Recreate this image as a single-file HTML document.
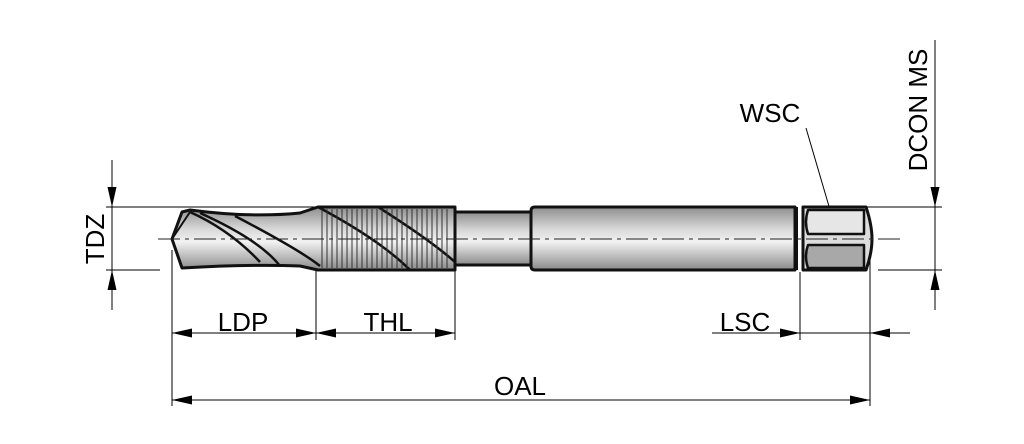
<!DOCTYPE html>
<html><head><style>body{margin:0;background:#fff}svg{display:block}</style></head><body>
<svg width="1024" height="444" viewBox="0 0 1024 444" xmlns="http://www.w3.org/2000/svg" font-family="Liberation Sans, sans-serif">
<defs>
<linearGradient id="g" x1="0" y1="0" x2="0" y2="1">
<stop offset="0" stop-color="#8e8e8e"/><stop offset="0.35" stop-color="#d8d8d8"/><stop offset="0.55" stop-color="#f2f2f2"/><stop offset="1" stop-color="#8a8a8a"/></linearGradient>
<marker id="a" markerWidth="20" markerHeight="10" refX="20" refY="5" orient="auto" markerUnits="userSpaceOnUse"><path d="M0,0.5L20,5L0,9.5z" fill="#000"/></marker>
</defs>
<g stroke="#000" stroke-width="1" fill="none">
<line x1="106" y1="207" x2="320" y2="207"/>
<line x1="106" y1="270" x2="160" y2="270"/>
<line x1="866" y1="207" x2="942" y2="207"/>
<line x1="878" y1="270" x2="942" y2="270"/>
<line x1="172" y1="250" x2="172" y2="406"/>
<line x1="316" y1="270" x2="316" y2="340"/>
<line x1="455" y1="270" x2="455" y2="340"/>
<line x1="800" y1="272" x2="800" y2="340"/>
<line x1="870" y1="250" x2="870" y2="406"/>
<line x1="112" y1="160" x2="112" y2="207" marker-end="url(#a)"/>
<line x1="112" y1="310" x2="112" y2="270" marker-end="url(#a)"/>
<line x1="112" y1="207" x2="112" y2="270"/>
<line x1="935" y1="40" x2="935" y2="207" marker-end="url(#a)"/>
<line x1="935" y1="310" x2="935" y2="270" marker-end="url(#a)"/>
<line x1="935" y1="207" x2="935" y2="270"/>
<line x1="244" y1="333" x2="172" y2="333" marker-end="url(#a)"/>
<line x1="244" y1="333" x2="316" y2="333" marker-end="url(#a)"/>
<line x1="386" y1="333" x2="316" y2="333" marker-end="url(#a)"/>
<line x1="386" y1="333" x2="455" y2="333" marker-end="url(#a)"/>
<line x1="712" y1="333" x2="800" y2="333" marker-end="url(#a)"/>
<line x1="910" y1="333" x2="870" y2="333" marker-end="url(#a)"/>
<line x1="800" y1="333" x2="870" y2="333"/>
<line x1="520" y1="400" x2="172" y2="400" marker-end="url(#a)"/>
<line x1="520" y1="400" x2="870" y2="400" marker-end="url(#a)"/>
<line x1="806" y1="128" x2="833" y2="220"/>
</g>
<g stroke="#111" stroke-width="3" stroke-linejoin="round">
<path d="M455,212 L533,212 L533,265 L455,265 Z" fill="url(#g)"/>
<path d="M535,207 L795,207 L795,270 L535,270 Q531,270 531,266 L531,211 Q531,207 535,207Z" fill="url(#g)"/>
<path d="M803,207 L866,207 Q872,225 872,239 Q872,253 866,270 L803,270 Z" fill="#ddd"/>
<path d="M808,210 L864,210 L864,234 L808,234 Q804,222 808,210Z" fill="#e6e6e6" stroke-width="2.5"/>
<path d="M808,245 L864,245 L864,268 L808,268 Q804,256 808,245Z" fill="#a8a8a8" stroke-width="2.5"/>
<line x1="797" y1="207" x2="797" y2="270" stroke-width="2"/>
<path d="M182,212 L190,210 Q250,218 300,213 L318,207 L455,207 L455,270 L318,270 L300,266 Q250,264 182,268 L172,239 Z" fill="url(#g)"/>
<path d="M190,212 Q230,230 260,262 M200,213 Q260,240 280,266 M235,216 Q300,250 320,266 M318,207 Q380,240 410,270 M378,207 Q430,240 455,262" fill="none" stroke-width="2.5"/>
<path d="M172,239 L190,212 M172,239 L182,268" fill="none" stroke-width="2"/>
</g>
<g stroke="#333" stroke-width="1">
<path d="M322,209V268M327,209V268M332,209V268M337,209V268M342,209V268M347,209V268M352,209V268M357,209V268M362,209V268M367,209V268M372,209V268M377,209V268M382,209V268M387,209V268M392,209V268M397,209V268M402,209V268M407,209V268M412,209V268M417,209V268M422,209V268M427,209V268M432,209V268M437,209V268M442,209V268M447,209V268"/>
</g>
<line x1="158" y1="239" x2="900" y2="239" stroke="#222" stroke-width="1" stroke-dasharray="22,5,4,5"/>
<g font-size="26" fill="#000">
<text x="243" y="331" text-anchor="middle">LDP</text>
<text x="388" y="331" text-anchor="middle">THL</text>
<text x="745" y="331" text-anchor="middle">LSC</text>
<text x="520" y="395" text-anchor="middle">OAL</text>
<text x="770" y="122" text-anchor="middle">WSC</text>
<text transform="translate(104,239) rotate(-90)" text-anchor="middle">TDZ</text>
<text transform="translate(927,110) rotate(-90)" text-anchor="middle">DCON MS</text>
</g>
</svg>
</body></html>
